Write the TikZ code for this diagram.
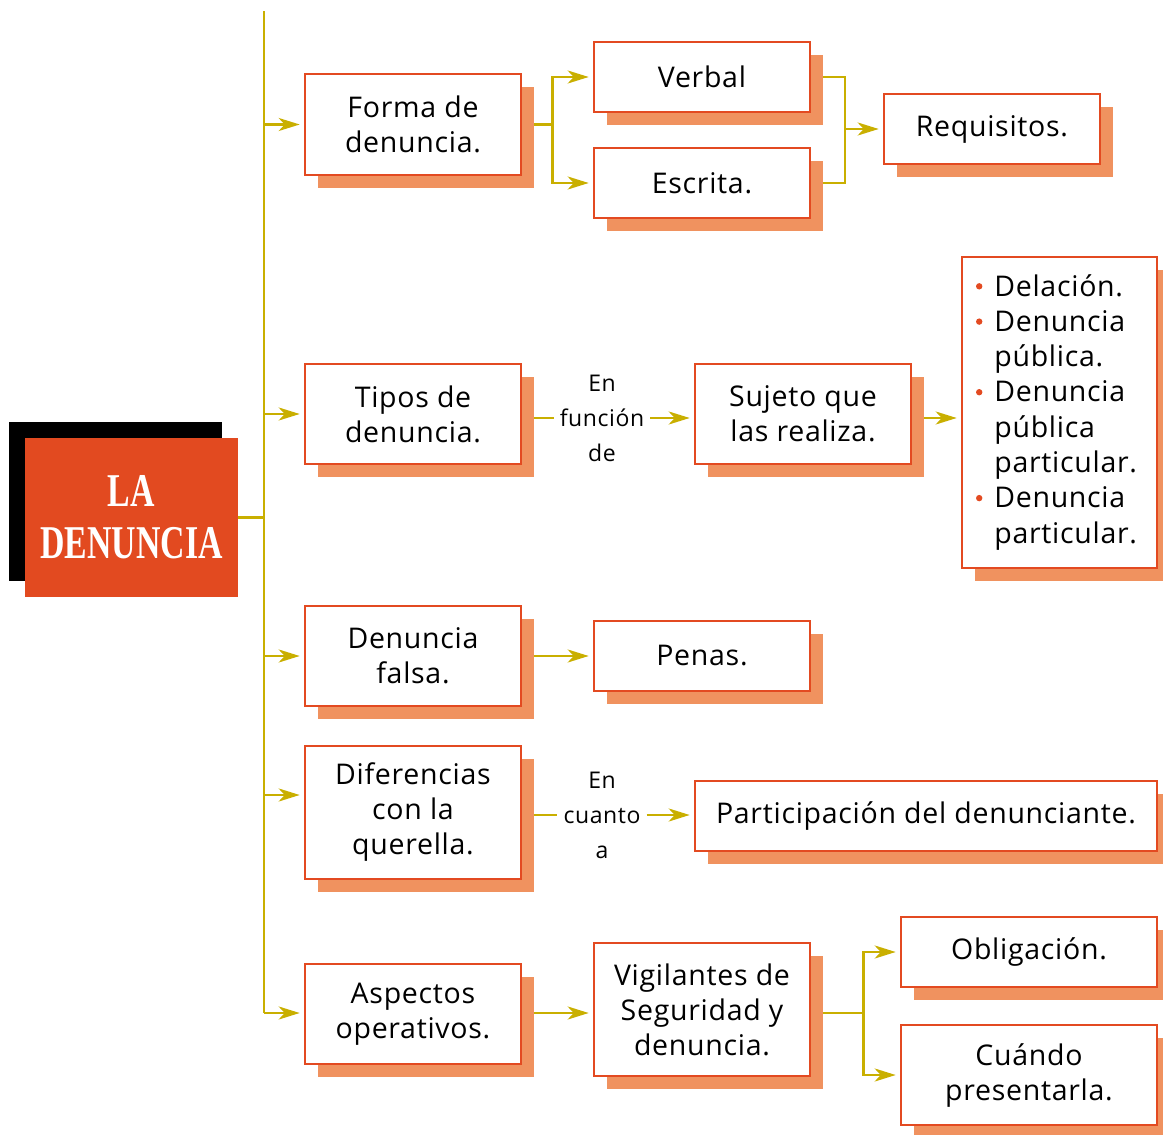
\documentclass[tikz,border=0pt]{standalone}
\usepackage{fontspec}
\setmainfont{Open Sans}[LetterSpace=2.5]
\newfontfamily\titlefont{Liberation Serif}[FakeStretch=0.72]
\usetikzlibrary{arrows.meta,shadows,positioning}
\definecolor{boxred}{HTML}{E34A21}
\definecolor{shadowc}{HTML}{F0925F}
\definecolor{linec}{HTML}{C9AF00}
\definecolor{titleor}{HTML}{E24A20}
\pgfdeclarelayer{background}
\pgfsetlayers{background,main}
\newcommand{\bul}{\raisebox{6.5pt}{\tikz\fill[boxred] (0,0) circle (3.2pt);}}
\tikzset{
  box/.style={draw=boxred, line width=2.6pt, fill=white, inner sep=2pt,
    align=center, font=\fontsize{28.5}{35}\selectfont,
    drop shadow={shadow xshift=13pt, shadow yshift=-13pt, fill=shadowc, opacity=1}},
  conn/.style={draw=linec, line width=2.4pt},
  arr/.style={conn, -{Stealth[length=21pt,width=13pt,inset=6pt]}, shorten >=4pt},
  small/.style={align=center, font=\fontsize{23}{35}\selectfont, inner sep=6pt},
}
\begin{document}
\begin{tikzpicture}[x=1pt,y=-1pt]
\useasboundingbox (0,0) rectangle (1163,1135);
% title
\fill[black] (9,422) rectangle (222,581);
\node[fill=titleor, minimum width=213pt, minimum height=159pt, inner sep=0pt,
  text=white, align=center, font=\titlefont\bfseries\fontsize{47}{52}\selectfont]
  (title) at (131.5,517.5) {LA\\DENUNCIA};
% boxes
\node[box, minimum width=216pt, minimum height=101pt] (forma) at (413,124.5) {Forma de\\denuncia.};
\node[box, minimum width=216pt, minimum height=70pt] (verbal) at (702,77) {Verbal};
\node[box, minimum width=216pt, minimum height=70pt] (escrita) at (702,183) {Escrita.};
\node[box, minimum width=216pt, minimum height=70pt] (req) at (992,129) {Requisitos.};
\node[box, minimum width=216pt, minimum height=100pt] (tipos) at (413,414) {Tipos de\\denuncia.};
\node[small] (enf) at (602,418) {En\\función\\de};
\node[box, minimum width=216pt, minimum height=100pt] (sujeto) at (803,414) {Sujeto que\\las realiza.};
\node[box, text width=195pt, minimum height=311pt, inner sep=0pt, align=left,
  font=\fontsize{28.5}{35.3}\selectfont] (lista) at (1059.5,412.5)
  {\hspace*{14pt}\begin{tabular}{@{}l@{\hspace{12pt}}l@{}}
   \bul & Delación.\\
   \bul & Denuncia\\
   & pública.\\
   \bul & Denuncia\\
   & pública\\
   & particular.\\
   \bul & Denuncia\\
   & particular.
   \end{tabular}};
\node[box, minimum width=216pt, minimum height=100pt] (falsa) at (413,656) {Denuncia\\falsa.};
\node[box, minimum width=216pt, minimum height=70pt] (penas) at (702,656) {Penas.};
\node[box, minimum width=216pt, minimum height=133pt] (dif) at (413,812.5) {Diferencias\\con la\\querella.};
\node[small] (enc) at (602,815) {En\\cuanto\\a};
\node[box, minimum width=462pt, minimum height=70pt] (part) at (926,816) {Participación del denunciante.};
\node[box, minimum width=216pt, minimum height=100pt] (asp) at (413,1014) {Aspectos\\operativos.};
\node[box, minimum width=216pt, minimum height=133pt] (vig) at (702,1009.5) {Vigilantes de\\Seguridad y\\denuncia.};
\node[box, minimum width=256pt, minimum height=70pt] (obl) at (1029,952) {Obligación.};
\node[box, minimum width=256pt, minimum height=100pt] (cua) at (1029,1075) {Cuándo\\presentarla.};
% coordinates
\coordinate (ttop) at (264,11);
\coordinate (tbot) at (264,1013);
\coordinate (m1) at (845,129);
\coordinate (dw) at ([yshift=17.5pt]dif.west);
\begin{pgfonlayer}{background}
\draw[conn] (ttop) -- (tbot);
\draw[conn] (title.east) -- (title.east -| ttop);
\draw[arr] (forma.west -| ttop) -- (forma.west);
\draw[arr] (tipos.west -| ttop) -- (tipos.west);
\draw[arr] (falsa.west -| ttop) -- (falsa.west);
\draw[arr] (dw -| ttop) -- (dw);
\draw[arr] (tbot) -- (tbot -| asp.west);
% forma branches
\draw[arr] (forma.east) -- ++(30,0) |- (verbal.west);
\draw[arr] (forma.east) -- ++(30,0) |- (escrita.west);
\draw[conn] (verbal.east) -| (m1);
\draw[conn] (escrita.east) -| (m1);
\draw[arr] (m1) -- (req.west);
% tipos
\draw[conn] (tipos.east |- enf) -- (enf.west);
\draw[arr] (enf.east) -- (enf -| sujeto.west);
\draw[arr] (sujeto.east |- enf) -- (enf -| lista.west);
% falsa
\draw[arr] (falsa.east) -- (penas.west);
% dif
\draw[conn] (dif.east |- enc) -- (enc.west);
\draw[arr] (enc.east) -- (enc -| part.west);
% aspectos
\draw[arr] (asp.east |- tbot) -- (tbot -| vig.west);
\draw[arr] (vig.east |- tbot) -- ++(52,0) |- (obl.west);
\draw[arr] (vig.east |- tbot) -- ++(52,0) |- (cua.west);
\end{pgfonlayer}
\end{tikzpicture}
\end{document}
